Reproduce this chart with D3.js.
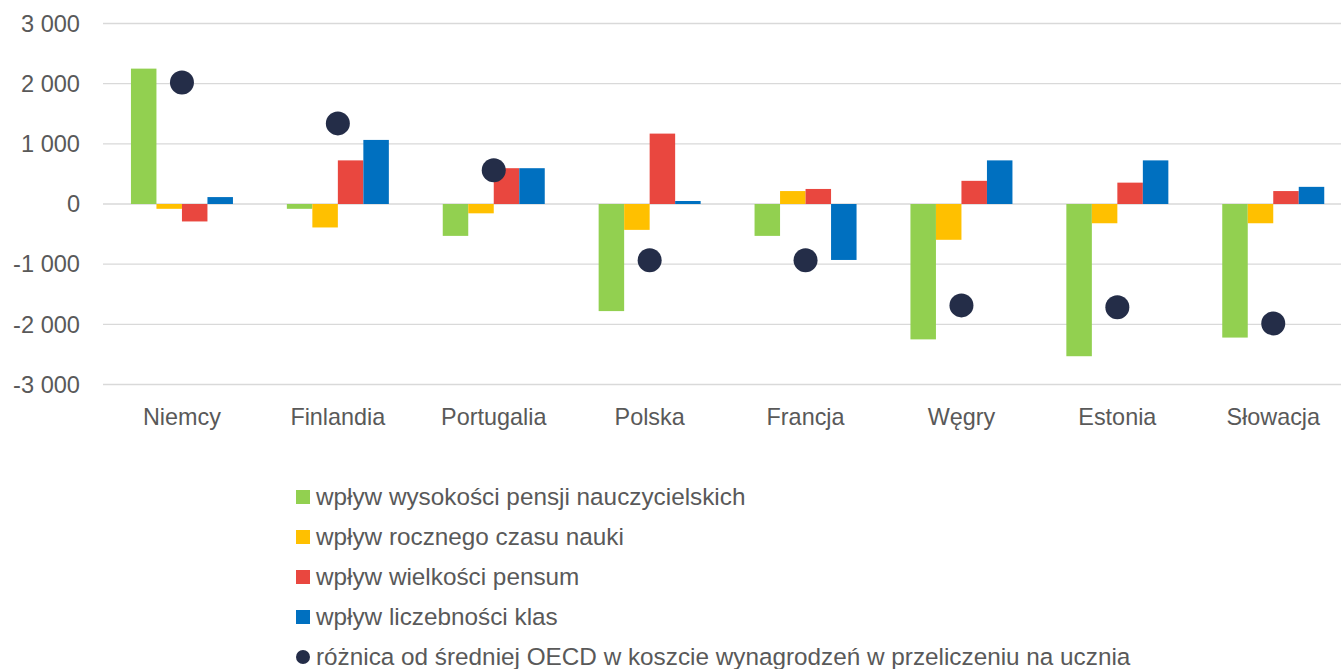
<!DOCTYPE html>
<html><head><meta charset="utf-8">
<script src="https://cdn.jsdelivr.net/npm/d3@7"></script>
<style>
html,body{margin:0;padding:0;background:#fff;overflow:hidden;}
text{font-family:"Liberation Sans",Arial,sans-serif;fill:#595959;}
</style></head>
<body>
<svg id="chart" width="1341" height="669"></svg>
<script>
const categories = ["Niemcy","Finlandia","Portugalia","Polska","Francja","Węgry","Estonia","Słowacja"];
const seriesNames = [
  "wpływ wysokości pensji nauczycielskich",
  "wpływ rocznego czasu nauki",
  "wpływ wielkości pensum",
  "wpływ liczebności klas"
];
const pensje   = [2250, -80, -530, -1780, -530, -2250, -2530, -2220];
const czas     = [-80, -390, -155, -430, 215, -595, -320, -320];
const pensum   = [-290, 725, 595, 1170, 250, 385, 355, 215];
const klasy    = [115, 1065, 595, 50, -930, 725, 725, 285];
const roznica  = [2020, 1340, 560, -935, -935, -1685, -1715, -1985];
const dotName  = "różnica od średniej OECD w koszcie wynagrodzeń w przeliczeniu na ucznia";
const yTicks   = [3000, 2000, 1000, 0, -1000, -2000, -3000];
const colors   = ["#92D050", "#FFC000", "#E9473F", "#0070C0"];
const dotColor = "#242D48";

const seriesValues = [pensje, czas, pensum, klasy];
const svg = d3.select("#chart");

const y = d3.scaleLinear().domain([-3000, 3000]).range([384.5, 23.5]);
const x0 = d3.scaleBand().domain(categories).range([104, 1351.2]).paddingInner(0).paddingOuter(0);
const groupW = 102;
const x1 = d3.scaleBand().domain(d3.range(4)).range([0, groupW]).padding(0);

// gridlines
svg.append("g").selectAll("line").data(yTicks).join("line")
  .attr("x1", 103).attr("x2", 1341)
  .attr("y1", d => y(d)).attr("y2", d => y(d))
  .attr("stroke", "#D9D9D9").attr("stroke-width", 1.3);

// y tick labels
svg.append("g").selectAll("text").data(yTicks).join("text")
  .attr("x", 80).attr("y", d => y(d))
  .attr("dy", "0.35em").attr("text-anchor", "end")
  .style("font-size", "23.6px")
  .text(d => d3.format(",")(d).replace(/,/g, " ").replace("−", "-"));

// bars
const groups = svg.append("g").selectAll("g").data(categories).join("g")
  .attr("transform", c => `translate(${x0(c) + x0.bandwidth()/2 - groupW/2},0)`);
groups.selectAll("rect").data((c, i) => seriesValues.map((s, k) => ({k, v: s[i]}))).join("rect")
  .attr("x", d => x1(d.k))
  .attr("width", x1.bandwidth())
  .attr("y", d => Math.min(y(d.v), y(0)))
  .attr("height", d => Math.abs(y(d.v) - y(0)))
  .attr("fill", d => colors[d.k]);

// dots
svg.append("g").selectAll("circle").data(categories).join("circle")
  .attr("cx", c => x0(c) + x0.bandwidth()/2)
  .attr("cy", (c, i) => y(roznica[i]))
  .attr("r", 12)
  .attr("fill", dotColor);

// category labels
svg.append("g").selectAll("text").data(categories).join("text")
  .attr("x", c => x0(c) + x0.bandwidth()/2)
  .attr("y", 425)
  .attr("text-anchor", "middle")
  .style("font-size", "23.4px")
  .text(c => c);

// legend
const legendItems = seriesNames.map((n, k) => ({name: n, color: colors[k], type: "rect"}))
  .concat([{name: dotName, color: dotColor, type: "circle"}]);
const lg = svg.append("g").selectAll("g").data(legendItems).join("g")
  .attr("transform", (d, i) => `translate(296,${505 + i*40})`);
lg.filter(d => d.type === "rect").append("rect")
  .attr("x", 0).attr("y", -15).attr("width", 14).attr("height", 14)
  .attr("fill", d => d.color);
lg.filter(d => d.type === "circle").append("circle")
  .attr("cx", 7).attr("cy", -8).attr("r", 7)
  .attr("fill", d => d.color);
lg.append("text")
  .attr("x", 20).attr("y", 0)
  .style("font-size", "24.3px")
  .text(d => d.name);
</script>
</body></html>
